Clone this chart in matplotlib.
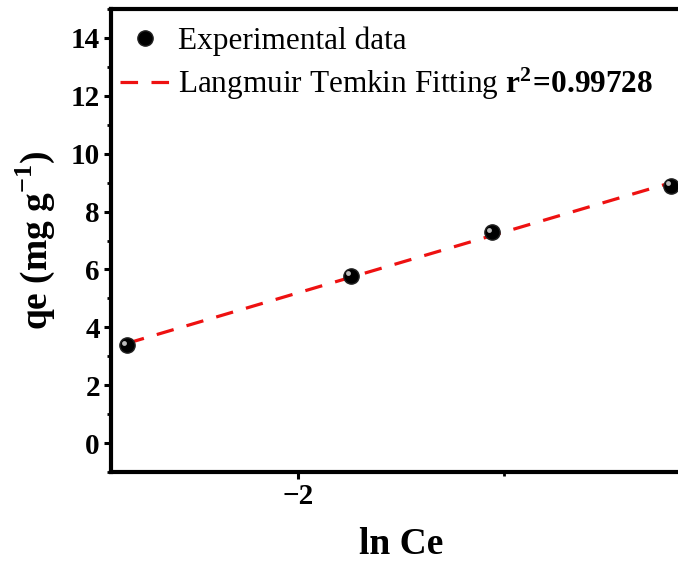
import numpy as np
import matplotlib
matplotlib.use('Agg')
import matplotlib.pyplot as plt
import matplotlib.transforms as mtransforms
from matplotlib.ticker import MultipleLocator

# Data
ln_ce = [-2.415, -1.871, -1.529, -1.095]
qe = [3.38, 5.79, 7.28, 8.90]
r2_text = '0.99728'

plt.rcParams['font.family'] = 'Liberation Serif'
plt.rcParams['mathtext.fontset'] = 'custom'
plt.rcParams['mathtext.rm'] = 'Liberation Serif'
plt.rcParams['mathtext.bf'] = 'Liberation Serif:bold'

fig = plt.figure(figsize=(6.78, 5.62), dpi=100)
ax = fig.add_axes([0.1637, 0.160, 0.856, 0.824])

# linear fit of the experimental data
k, b = np.polyfit(ln_ce, qe, 1)
x_fit = np.array([ln_ce[0], ln_ce[-1]])
ax.plot(x_fit, k * x_fit + b, color='#ee1111', lw=2.3, dashes=(5.5, 4.2),
        label=r'Langmuir Temkin Fitting $\mathbf{r^2\!=\!' + r2_text + '}$', zorder=2)

# black sphere markers with a small highlight
ax.plot(ln_ce, qe, 'o', color='black', ms=11, mec='#222222',
        label='Experimental data', zorder=3, clip_on=False)
shift = mtransforms.offset_copy(ax.transData, fig=fig, x=-2, y=2, units='points')
ax.plot(ln_ce, qe, 'o', color='#bbbbbb', ms=3.5, mec='none',
        transform=shift, zorder=4, clip_on=False)

ax.set_xlim(-2.454, -1.045)
ax.set_ylim(-1, 15)
ax.xaxis.set_major_locator(MultipleLocator(1))
ax.xaxis.set_minor_locator(MultipleLocator(0.5))
ax.yaxis.set_major_locator(MultipleLocator(2))
ax.yaxis.set_minor_locator(MultipleLocator(1))

for s in ['left', 'bottom', 'top']:
    ax.spines[s].set_linewidth(3)
ax.spines['right'].set_visible(False)

ax.tick_params(which='major', direction='out', length=5, width=2.2,
               labelsize=21, pad=3)
ax.tick_params(which='minor', direction='out', length=3, width=2)
ax.tick_params(top=False, right=False, which='both')
for lab in ax.get_xticklabels() + ax.get_yticklabels():
    lab.set_fontweight('bold')

ax.set_xlabel('ln Ce', fontsize=27, fontweight='bold', labelpad=12)
ax.set_ylabel(r'qe (mg g$^{\mathbf{-1}}$)', fontsize=27, fontweight='bold', labelpad=10)

h, l = ax.get_legend_handles_labels()
leg = ax.legend([h[1], h[0]], [l[1], l[0]], loc='upper left', frameon=False,
                fontsize=22.5, handlelength=1.6, handletextpad=0.26,
                borderpad=0, borderaxespad=0, labelspacing=0.32,
                bbox_to_anchor=(120 / 678, 1 - 26 / 562),
                bbox_transform=fig.transFigure)

fig.savefig('out.png', dpi=100)
